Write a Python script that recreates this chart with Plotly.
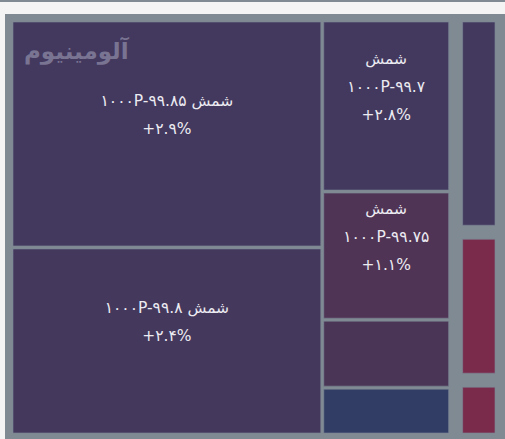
import plotly.graph_objects as go

# ---------------- data ----------------
group_name = "آلومینیوم"
metal = "شمش"

# aluminium ingots: grade code, column of the tile, traded value, daily change (%)
al_codes = ["۱۰۰۰P-۹۹.۸۵", "۱۰۰۰P-۹۹.۸", "۱۰۰۰P-۹۹.۷", "۱۰۰۰P-۹۹.۷۵", "سایر ۱", "سایر ۲"]
al_column = [0, 0, 1, 1, 1, 1]
al_values = [70.6, 58.2, 21.9, 16.4, 8.7, 6.0]
al_change = [2.9, 2.4, 2.8, 1.1, None, None]
al_colors = ["#43395e", "#44395d", "#43395f", "#4f3455", "#4a3556", "#323d66"]

# the other (small) groups in the right-hand column
other_labels = ["گروه ۲", "گروه ۳", "گروه ۴"]
other_values = [6.9, 4.7, 1.9]
other_colors = ["#43395e", "#7a2b4c", "#7a2b4c"]

# ---------------- styling ----------------
W, H = 505, 439
PAGE_BG = "#f4f4f4"
GRID_BG = "#7f8a93"
TEXT_COLOR = "#ecebf2"
FONT = "DejaVu Sans"
BOX = dict(left=13, top=22, right=495, bottom=433)   # tile area in pixels
GROUP_GAP = 14

FA_DIGITS = str.maketrans("0123456789", "۰۱۲۳۴۵۶۷۸۹")


def fa(num_text):
    return num_text.translate(FA_DIGITS)


def span(line, size=15.5):
    return f'<span style="font-size:{size}px">{line}</span>'


def tile_text(code, col, change):
    if change is None:
        return ""
    pct = f"+{fa(f'{change:.1f}')}%"
    if col == 0:
        lines = [f"{code} {metal}", pct]
    else:
        lines = [metal, code, pct]
    # trailing spacer line lifts the label block a little above the tile centre
    return "<br>".join([span(s) for s in lines] + [span("&nbsp;", 58)])


# horizontal split of the tile area between the two groups, from the values
al_total = sum(al_values)
ot_total = sum(other_values)
usable = BOX["right"] - BOX["left"] - GROUP_GAP
al_width = usable * al_total / (al_total + ot_total)
al_x = [BOX["left"] / W, (BOX["left"] + al_width) / W]
ot_x = [(BOX["left"] + al_width + GROUP_GAP) / W, BOX["right"] / W]
dom_y = [(H - BOX["bottom"]) / H, (H - BOX["top"]) / H]

# ---- aluminium treemap: root -> two columns -> ingots ----
ids = ["al", "al-c0", "al-c1"]
labels = [group_name, group_name, group_name]
parents = ["", "al", "al"]
values = [0, 0, 0]
colors = [GRID_BG, GRID_BG, GRID_BG]
texts = ["", "", ""]
line_w = [0, 0, 0]
for i, code in enumerate(al_codes):
    ids.append(f"al-{i}")
    labels.append(f"{metal} {code}")
    parents.append(f"al-c{al_column[i]}")
    values.append(al_values[i])
    colors.append(al_colors[i])
    texts.append(tile_text(code, al_column[i], al_change[i]))
    line_w.append(1)

fig = go.Figure()
fig.add_trace(go.Treemap(
    ids=ids, labels=labels, parents=parents, values=values,
    branchvalues="remainder", sort=False,
    text=texts, texttemplate="%{text}", textposition="middle center",
    textfont=dict(family=FONT, size=21.5, color=TEXT_COLOR),
    marker=dict(colors=colors, line=dict(width=line_w, color="rgba(125,135,150,0.6)"),
                pad=dict(t=0, l=0, r=0, b=0)),
    tiling=dict(packing="slice-dice", pad=3),
    pathbar=dict(visible=False),
    hoverinfo="skip",
    domain=dict(x=al_x, y=dom_y),
))

fig.add_trace(go.Treemap(
    ids=[f"g{i}" for i in range(len(other_labels))],
    labels=other_labels, parents=[""] * len(other_labels), values=other_values,
    sort=False, textinfo="none",
    marker=dict(colors=other_colors, line=dict(width=1, color="rgba(125,135,150,0.6)"),
                pad=dict(t=0, l=0, r=0, b=0)),
    tiling=dict(packing="slice", pad=GROUP_GAP),
    pathbar=dict(visible=False),
    hoverinfo="skip",
    domain=dict(x=ot_x, y=dom_y),
))

# group title drawn faintly over the top-left corner of its block
fig.add_annotation(
    x=al_x[0] + 9 / W, y=1 - 50 / H, xref="paper", yref="paper",
    xanchor="left", yanchor="middle", showarrow=False,
    text=f"<b>{group_name}</b>",
    font=dict(family=FONT, size=23, color="#7a7493"),
)

# page frame behind the chart
fig.add_shape(type="rect", xref="paper", yref="paper", layer="below",
              x0=5 / W, x1=1, y0=0, y1=1 - 14 / H, fillcolor=GRID_BG, line_width=0)
fig.add_shape(type="rect", xref="paper", yref="paper", layer="below",
              x0=0, x1=1, y0=1 - 2 / H, y1=1, fillcolor=GRID_BG, line_width=0)

fig.update_layout(
    width=W, height=H, margin=dict(l=0, r=0, t=0, b=0),
    paper_bgcolor=PAGE_BG, showlegend=False,
)

fig.write_html("out.html")
